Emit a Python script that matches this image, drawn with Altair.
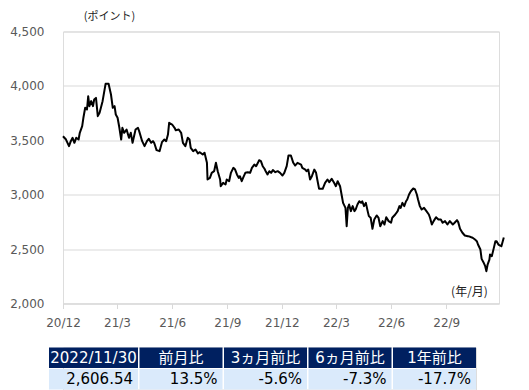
import altair as alt
import pandas as pd

# ---- data ----
# days after 2020-12-01 for each traced point, and the index value (points)
day_offsets = [
    0, 5, 10, 13, 16, 19, 22, 26, 28, 32, 34, 37, 40, 42, 44, 47, 50, 52, 55, 58,
    61, 66, 71, 76, 80, 83, 86, 88, 91, 94, 97, 99, 102, 106, 110, 113, 116, 121, 125, 127,
    132, 136, 140, 143, 147, 150, 152, 156, 161, 165, 169, 172, 175, 177, 182, 186, 188, 193, 197, 200,
    204, 208, 211, 213, 217, 221, 225, 228, 233, 236, 240, 241, 245, 248, 252, 255, 258, 262, 263, 267,
    271, 273, 277, 280, 284, 287, 290, 293, 295, 298, 301, 304, 308, 312, 315, 319, 322, 325, 327, 330,
    333, 336, 338, 341, 344, 347, 350, 354, 358, 362, 366, 369, 373, 376, 380, 384, 387, 391, 397, 399,
    404, 406, 409, 412, 415, 419, 422, 424, 427, 433, 437, 441, 444, 448, 452, 455, 458, 462, 465, 467,
    471, 473, 475, 477, 480, 483, 486, 488, 491, 494, 497, 499, 502, 505, 508, 510, 513, 516, 519, 523,
    526, 529, 533, 536, 539, 543, 547, 549, 554, 558, 561, 563, 566, 569, 572, 574, 577, 580, 584, 587,
    590, 592, 595, 598, 602, 606, 610, 612, 615, 618, 622, 626, 630, 633, 637, 641, 645, 650, 653, 657,
    659, 662, 666, 670, 675, 679, 683, 687, 690, 692, 696, 698, 701, 704, 706, 708, 711, 712, 715, 718,
    721, 723, 726, 729, 731, 735,
]
index_values = [
    3537, 3507, 3446, 3492, 3523, 3477, 3523, 3507, 3569, 3630, 3707, 3799, 3783, 3905, 3814, 3860, 3814, 3875, 3890, 3722,
    3753, 3860, 4019, 4019, 3921, 3799, 3814, 3737, 3707, 3615, 3507, 3615, 3569, 3599, 3523, 3569, 3477, 3599, 3615, 3584,
    3492, 3446, 3492, 3514, 3477, 3492, 3477, 3410, 3400, 3483, 3507, 3492, 3553, 3661, 3645, 3615, 3593, 3599, 3569, 3477,
    3446, 3523, 3507, 3431, 3400, 3415, 3379, 3391, 3369, 3385, 3293, 3140, 3155, 3201, 3216, 3293, 3216, 3140, 3078, 3109,
    3094, 3140, 3124, 3201, 3247, 3231, 3186, 3155, 3170, 3124, 3164, 3201, 3207, 3201, 3247, 3277, 3262, 3293, 3317, 3308,
    3262, 3238, 3216, 3186, 3216, 3201, 3226, 3207, 3216, 3201, 3176, 3201, 3262, 3360, 3360, 3293, 3268, 3293, 3277, 3247,
    3231, 3216, 3231, 3140, 3170, 3231, 3201, 3140, 3054, 3054, 3109, 3140, 3115, 3146, 3109, 3078, 3124, 3078, 2986, 2925,
    2879, 2710, 2879, 2910, 2849, 2895, 2849, 2864, 2910, 2940, 2925, 2940, 2895, 2925, 2849, 2803, 2788, 2687, 2772, 2809,
    2790, 2710, 2757, 2726, 2793, 2757, 2742, 2788, 2818, 2849, 2895, 2879, 2925, 2895, 2940, 2956, 3002, 3032, 3057, 3048,
    3002, 2956, 2895, 2864, 2879, 2849, 2818, 2788, 2726, 2757, 2793, 2772, 2772, 2742, 2757, 2726, 2757, 2726, 2742, 2766,
    2748, 2687, 2650, 2625, 2619, 2613, 2604, 2588, 2573, 2542, 2496, 2410, 2380, 2343, 2297, 2358, 2404, 2450, 2435, 2502,
    2573, 2573, 2542, 2533, 2527, 2607,
]

y_ticks = [2000, 2500, 3000, 3500, 4000, 4500]
x_tick_months = [(2020, 12), (2021, 3), (2021, 6), (2021, 9), (2021, 12), (2022, 3), (2022, 6), (2022, 9)]

table_headers = ["2022/11/30", "前月比", "3ヵ月前比", "6ヵ月前比", "1年前比"]
table_values = ["2,606.54", "13.5%", "-5.6%", "-7.3%", "-17.7%"]

# ---- styles ----
LATIN = "DejaVu Sans, Noto Sans CJK JP, sans-serif"
CJK = "Noto Sans CJK JP, DejaVu Sans, sans-serif"
GRID = "#d9d9d9"
LABEL = "#595959"
NAVY = "#002060"
LIGHT = "#DAEAFB"
COL_WIDTHS = [89, 83, 83, 83, 83]   # table column widths (px)
COL_GAP = 1.5                       # white gap between table columns (px)

df = pd.DataFrame({
    "date": pd.Timestamp("2020-12-01") + pd.to_timedelta(day_offsets, unit="D"),
    "value": index_values,
})

x_scale = alt.Scale(
    domain=[alt.DateTime(year=2020, month=12, date=1), alt.DateTime(year=2022, month=11, date=28)],
    nice=False,
)

line = alt.Chart(df).mark_line(color="black", strokeWidth=2, strokeJoin="round").encode(
    x=alt.X(
        "date:T",
        scale=x_scale,
        axis=alt.Axis(
            values=[alt.DateTime(year=y, month=m, date=1) for y, m in x_tick_months],
            format="%y/%-m",
            grid=False,
            domainColor=GRID,
            tickColor=GRID,
            tickSize=5,
            labelColor=LABEL,
            labelFont=LATIN,
            labelFontSize=12,
            labelPadding=9,
            labelFlush=False,
            title="(年/月)",
            titleFont=CJK,
            titleFontSize=12,
            titleFontWeight="normal",
            titleColor="#222222",
            titleAngle=0,
            titleAlign="center",
            titleBaseline="middle",
            titleX=406,
            titleY=-12,
        ),
    ),
    y=alt.Y(
        "value:Q",
        scale=alt.Scale(domain=[2000, 4500], nice=False, zero=False),
        axis=alt.Axis(
            values=y_ticks,
            format=",.0f",
            grid=True,
            gridColor=GRID,
            domain=False,
            ticks=False,
            labelColor=LABEL,
            labelFont=LATIN,
            labelFontSize=12,
            labelPadding=19,
            minExtent=54,
            maxExtent=54,
            title="(ポイント)",
            titleFont=CJK,
            titleFontSize=11,
            titleFontWeight="normal",
            titleColor="#222222",
            titleAngle=0,
            titleAlign="center",
            titleBaseline="middle",
            titleX=46,
            titleY=-15,
        ),
    ),
).properties(width=436, height=272)

# ---- summary table ----
n = len(table_headers)
lefts, pos = [], 0.0
for w in COL_WIDTHS:
    lefts.append(pos)
    pos += w + COL_GAP
rights = [l + w for l, w in zip(lefts, COL_WIDTHS)]
total = rights[-1]

tdf = pd.DataFrame({
    "x0": lefts * 2,
    "x1": rights * 2,
    "row": ["h"] * n + ["v"] * n,
    "label": table_headers + table_values,
})
tdf["xc"] = (tdf["x0"] + tdf["x1"]) / 2

# table spans from 14px left of the plot's left edge
tx_scale = alt.Scale(domain=[0, total], range=[-14, total - 14], nice=False, zero=False)
ty_scale = alt.Scale(domain=["h", "v"], paddingInner=0.05, paddingOuter=0)

y_enc = alt.Y("row:N", scale=ty_scale, axis=None)

cells = alt.Chart(tdf).mark_rect().encode(
    x=alt.X("x0:Q", scale=tx_scale, axis=None),
    x2="x1:Q",
    y=y_enc,
    color=alt.Color("row:N", scale=alt.Scale(domain=["h", "v"], range=[NAVY, LIGHT]), legend=None),
)
head_text = alt.Chart(tdf).transform_filter("datum.row == 'h'").mark_text(
    color="white", font=LATIN, fontSize=15, align="center", baseline="middle"
).encode(
    x=alt.X("xc:Q", scale=tx_scale, axis=None),
    y=y_enc,
    text="label:N",
)
val_text = alt.Chart(tdf).transform_filter("datum.row == 'v'").mark_text(
    color="black", font=LATIN, fontSize=15, align="right", baseline="middle", dx=-5
).encode(
    x=alt.X("x1:Q", scale=tx_scale, axis=None),
    y=y_enc,
    text="label:N",
)

table = alt.layer(cells, head_text, val_text).properties(width=int(total - 14), height=42)

chart = alt.vconcat(line, table, spacing=17).properties(
    padding={"left": 0, "top": 1.5, "right": 0, "bottom": 0}
).configure_view(stroke=None).configure(background="white")

chart.save("out.html", embed_options={"renderer": "svg", "actions": False})
